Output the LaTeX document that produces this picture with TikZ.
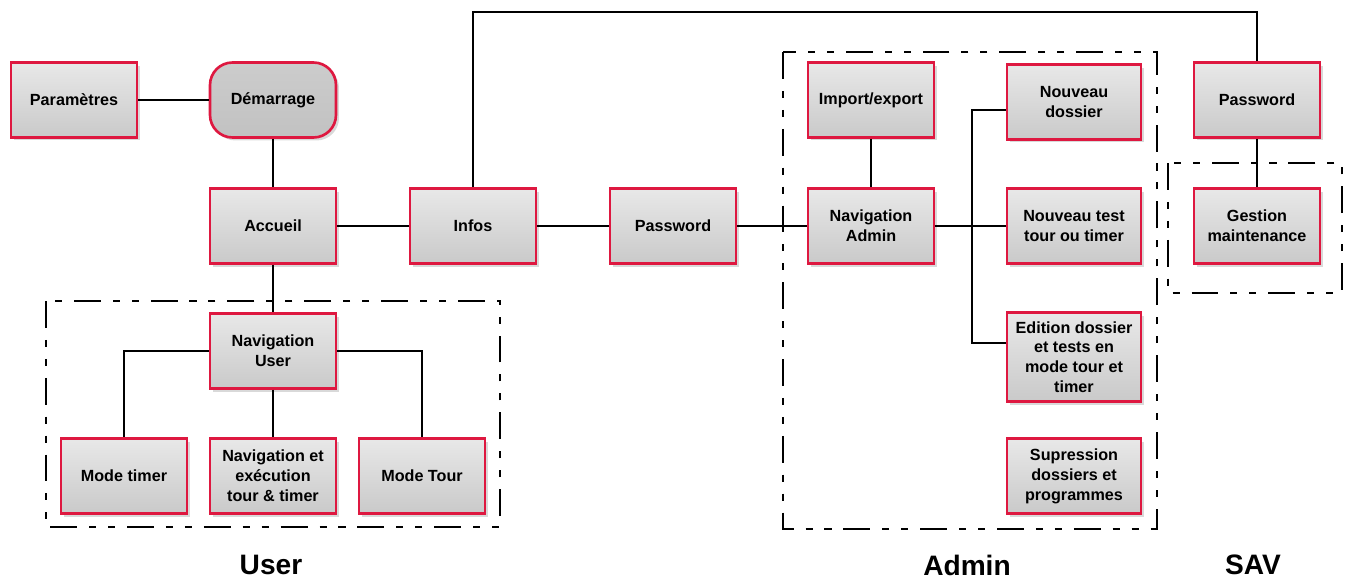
\documentclass[tikz,border=0pt]{standalone}
\usepackage{fontspec}
\setmainfont{Liberation Sans}
\usepackage{xcolor}
\usepackage{tikz}
\usetikzlibrary{positioning,shadows}
\definecolor{boxred}{RGB}{222,24,64}
\tikzset{
  menu box/.style={
    rectangle,draw=boxred,line width=1.5pt,
    top color=gray!18,bottom color=gray!42,
    minimum width=2.52cm,minimum height=1.5cm,
    align=center,inner sep=2pt,
    font=\bfseries\fontsize{9.2}{11.3}\selectfont,
    drop shadow={opacity=0.3,shadow xshift=0.06cm,shadow yshift=-0.06cm}
  },
  wide box/.style={
    menu box,minimum width=2.68cm
  },
  start box/.style={
    menu box,rounded corners=0.45cm,
    top color=gray!40,bottom color=gray!48
  },
  link/.style={
    line width=1.25pt
  },
  zone frame/.style={
    line width=1.4pt,
    dash pattern=on 15.3pt off 6.8pt on 4pt off 6.8pt on 4pt off 6.8pt
  },
  zone label/.style={
    font=\bfseries\fontsize{16}{19}\selectfont
  }
}

\begin{document}
\begin{tikzpicture}[x=0.02cm,y=-0.02cm]
  \useasboundingbox (0,0) rectangle (1349,579);

  % frames
  \draw[zone frame] (46,301) rectangle (500,527);
  \draw[zone frame] (783,52) rectangle (1157,529);
  \draw[zone frame] (1168,163) rectangle (1342,293);

  % start
  \node[menu box]  (params)    at (74,100)  {Paramètres};
  \node[start box] (demarrage) at (273,100) {Démarrage};
  \node[menu box]  (accueil)   at (273,226) {Accueil};
  \node[menu box]  (infos)     at (473,226) {Infos};
  \node[menu box]  (pwdAdmin)  at (673,226) {Password};

  % user
  \node[menu box] (navUser)   at (273,351) {Navigation\\User};
  \node[menu box] (modeTimer) at (124,476) {Mode timer};
  \node[menu box] (navExec)   at (273,476) {Navigation et\\exécution\\tour \& timer};
  \node[menu box] (modeTour)  at (422,476) {Mode Tour};

  % admin
  \node[menu box] (importExport) at (871,100) {Import/export};
  \node[menu box] (navAdmin)     at (871,226) {Navigation\\Admin};
  \node[wide box] (nouvDossier)  at (1074,102) {Nouveau\\dossier};
  \node[wide box] (nouvTest)     at (1074,226) {Nouveau test\\tour ou timer};
  \node[wide box,minimum height=1.78cm] (edition) at (1074,357)
    {Edition dossier\\et tests en\\mode tour et\\timer};
  \node[wide box] (suppression)  at (1074,476) {Supression\\dossiers et\\programmes};

  % sav
  \node[menu box] (pwdSav)  at (1257,100) {Password};
  \node[menu box] (gestion) at (1257,226) {Gestion\\maintenance};

  \coordinate (topRoute) at (800,12);
  \coordinate (adminBus) at (972,226);

  \foreach \a/\b in {params/demarrage,demarrage/accueil,accueil/infos,
                     infos/pwdAdmin,pwdAdmin/navAdmin,navAdmin/nouvTest,
                     accueil/navUser,navUser/navExec,importExport/navAdmin,
                     pwdSav/gestion}
    \draw[link] (\a) -- (\b);

  \draw[link] (navUser.west) -| (modeTimer);
  \draw[link] (navUser.east) -| (modeTour);
  \draw[link] (infos) |- (topRoute) -| (pwdSav);
  \draw[link] ([yshift=-0.16cm]nouvDossier.west) -| (adminBus)
    |- ([yshift=0.28cm]edition.west);

  \node[zone label] (userLabel)  at (271,565)  {User};
  \node[zone label] (adminLabel) at (967,565)  {Admin};
  \node[zone label] (savLabel)   at (1253,565) {SAV};
\end{tikzpicture}
\end{document}
